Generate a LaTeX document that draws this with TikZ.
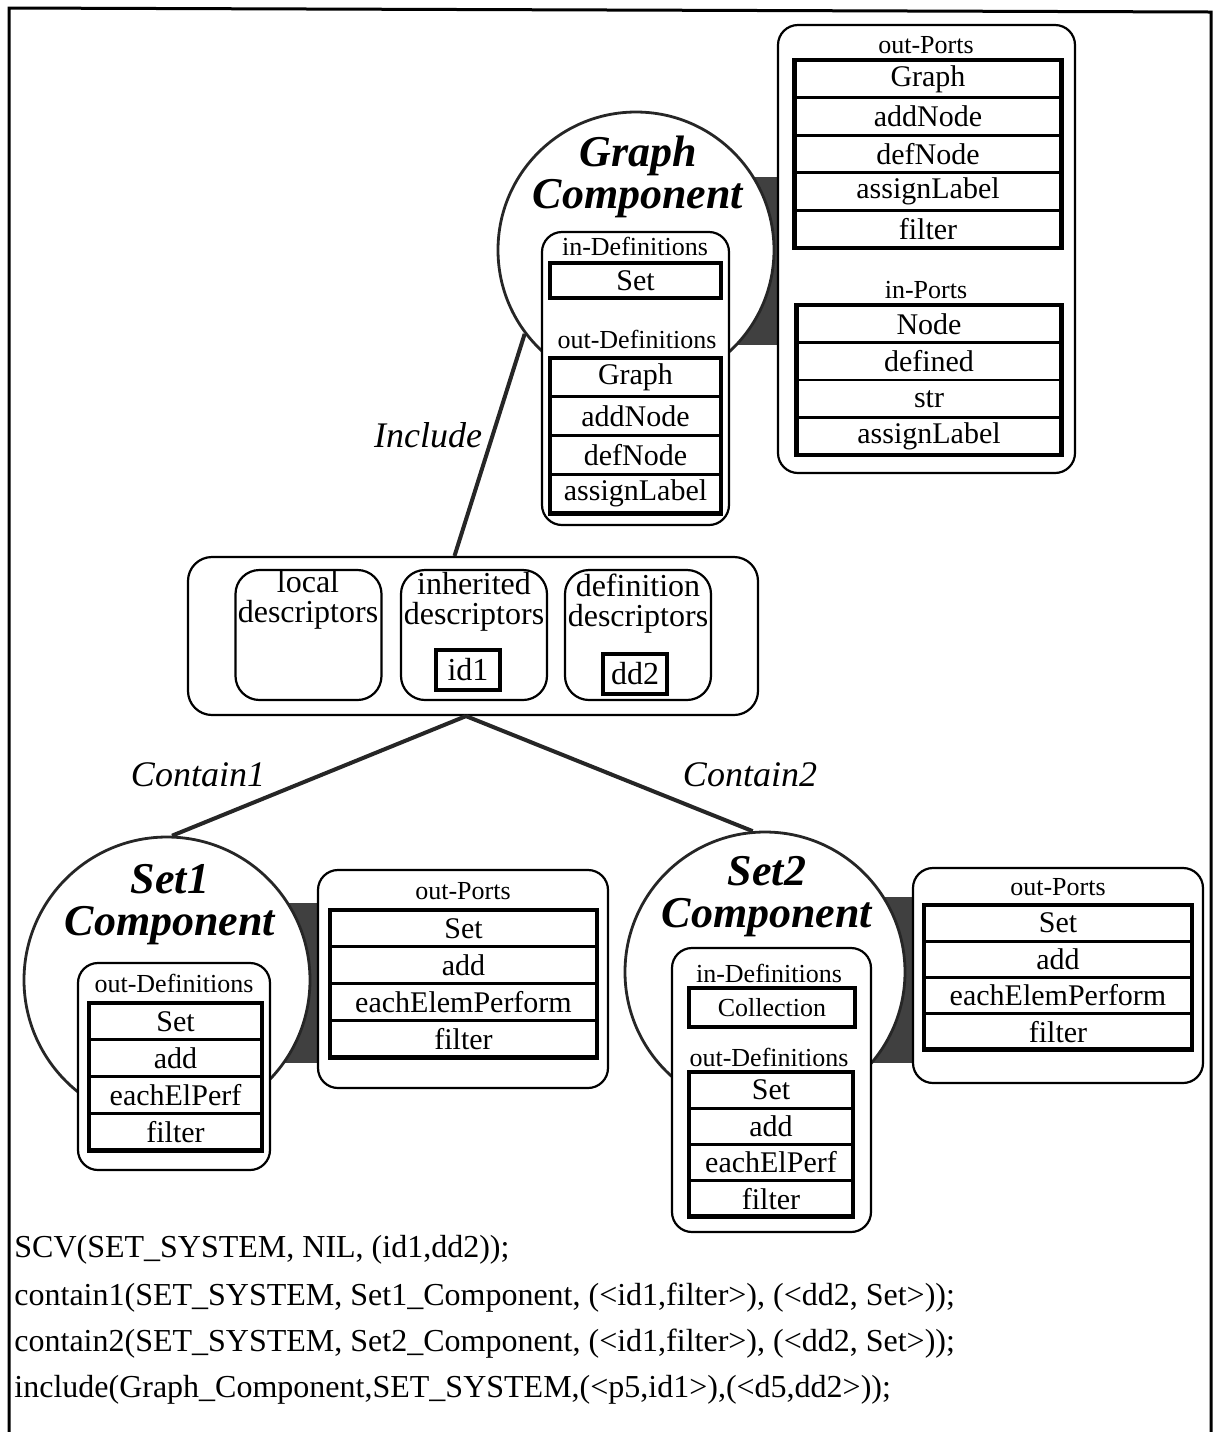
\documentclass[tikz,border=0pt]{standalone}
\usepackage{fontspec}
\setmainfont{Liberation Serif}
\usetikzlibrary{positioning}

\begin{document}
\begin{tikzpicture}[x=0.5pt, y=-0.5pt,
    link/.style={draw=black!85, line width=2pt},
    edgelbl/.style={font=\fontsize{18}{18}\selectfont\itshape},
    row/.style={rectangle, draw, line width=1.4pt, fill=white, inner sep=0pt, outer sep=0pt, font=\fontsize{15}{15}\selectfont},
    listframe/.style={draw, line width=2.4pt}]

    \useasboundingbox (0,0) rectangle (1217,1432);
    \draw[line width=1.5pt] (9,1432) -- (9,8) -- (1211,12) -- (1211,1432);

    % dark joints between component and its ports
    \fill[black!75] (700,177) rectangle (779,345);
    \fill[black!75] (250,903) rectangle (321,1063);
    \fill[black!75] (850,897) rectangle (914,1063);

    \begin{scope}[every node/.style={circle, draw=black!85, line width=1.4pt, fill=white, inner sep=0pt}]
        \node[minimum size=138pt] (gcomp) at (636,250) {};
        \node[minimum size=143pt] (s1comp) at (167,980) {};
        \node[minimum size=140pt] (s2comp) at (765,972) {};
    \end{scope}

    \begin{scope}[every node/.style={align=center, font=\fontsize{22}{21}\selectfont\bfseries\itshape}]
        \node (gtitle) at (638,177) {Graph\\Component};
        \node (s1title) at (170,905) {Set1\\Component};
        \node (s2title) at (767,897) {Set2\\Component};
    \end{scope}

    \begin{scope}[every node/.style={rectangle, rounded corners=10pt, draw, line width=1.1pt, fill=white, inner sep=0pt}]
        \node[minimum width=148.5pt, minimum height=224pt] (gports) at (926.5,249) {};
        \node[minimum width=93.5pt, minimum height=146.5pt] (gdefs) at (635.5,378.5) {};
        \node[minimum width=285pt, minimum height=79pt, rounded corners=12pt] (scv) at (473,636) {};
        \node[minimum width=145pt, minimum height=109pt] (s1ports) at (463,979) {};
        \node[minimum width=96pt, minimum height=103.5pt] (s1defs) at (174,1066.5) {};
        \node[minimum width=145pt, minimum height=107.5pt] (s2ports) at (1058,975.5) {};
        \node[minimum width=99.5pt, minimum height=142pt] (s2defs) at (771.5,1090) {};
    \end{scope}

    \begin{scope}[every node/.style={rectangle, rounded corners=12pt, draw, line width=1.1pt, fill=white, minimum width=73pt, minimum height=65pt}]
        \node (locd) at (308.5,635) {};
        \node (inhd) at (474,635) {};
        \node (defd) at (638,635) {};
    \end{scope}

    \begin{scope}[every node/.style={align=center, font=\fontsize{16}{15}\selectfont}]
        \node (locl) at (308,600) {local\\descriptors};
        \node (inhl) at (474,602) {inherited\\descriptors};
        \node (defl) at (638,604) {definition\\descriptors};
    \end{scope}

    \begin{scope}[every node/.style={rectangle, draw, line width=2.2pt, inner sep=0pt, minimum width=32pt, minimum height=20pt, font=\fontsize{16}{16}\selectfont}]
        \node (id1) at (468,670) {id1};
        \node (dd2) at (635,674) {dd2};
    \end{scope}

    \begin{scope}[every node/.style={font=\fontsize{13}{13}\selectfont, inner sep=1pt}]
        \node (gopl) at (926,45) {out-Ports};
        \node (gipl) at (926,290) {in-Ports};
        \node (gidl) at (635,246) {in-Definitions};
        \node (godl) at (637,339) {out-Definitions};
        \node (s1opl) at (463,891) {out-Ports};
        \node (s1odl) at (174,983) {out-Definitions};
        \node (s2opl) at (1058,887) {out-Ports};
        \node (s2idl) at (769,973) {in-Definitions};
        \node (s2odl) at (769,1057) {out-Definitions};
    \end{scope}

    % Graph out-Ports
    \begin{scope}[every node/.style={row, minimum width=133.5pt, minimum height=18.8pt}]
        \node[anchor=north] (gop1) at (928,60) {Graph};
        \node[below=0pt of gop1] (gop2) {addNode};
        \node[below=0pt of gop2] (gop3) {defNode};
        \node[below=0pt of gop3] (gop4) {assignLabel};
        \node[below=0pt of gop4] (gop5) {filter};
    \end{scope}
    \draw[listframe] (gop1.north west) rectangle (gop5.south east);

    % Graph in-Ports
    \begin{scope}[every node/.style={row, minimum width=132.5pt, minimum height=18.75pt}]
        \node[anchor=north] (gip1) at (929,305) {Node};
        \node[below=0pt of gip1] (gip2) {defined};
        \node[below=0pt of gip2] (gip3) {str};
        \node[below=0pt of gip3] (gip4) {assignLabel};
    \end{scope}
    \draw[listframe] (gip1.north west) rectangle (gip4.south east);

    % Graph definitions
    \begin{scope}[every node/.style={row, minimum width=85.5pt, minimum height=19.4pt}]
        \node[minimum height=17.5pt, line width=2.4pt] (gid1) at (635.5,280.5) {Set};
        \node[anchor=north] (god1) at (635.5,358) {Graph};
        \node[below=0pt of god1] (god2) {addNode};
        \node[below=0pt of god2] (god3) {defNode};
        \node[below=0pt of god3] (god4) {assignLabel};
    \end{scope}
    \draw[listframe] (god1.north west) rectangle (god4.south east);

    % Set1 out-Ports
    \begin{scope}[every node/.style={row, minimum width=133.5pt, minimum height=18.4pt}]
        \node[anchor=north] (s1op1) at (463.5,910) {Set};
        \node[below=0pt of s1op1] (s1op2) {add};
        \node[below=0pt of s1op2] (s1op3) {eachElemPerform};
        \node[below=0pt of s1op3] (s1op4) {filter};
    \end{scope}
    \draw[listframe] (s1op1.north west) rectangle (s1op4.south east);

    % Set1 out-Definitions
    \begin{scope}[every node/.style={row, minimum width=86.5pt, minimum height=18.4pt}]
        \node[anchor=north] (s1od1) at (175.5,1003) {Set};
        \node[below=0pt of s1od1] (s1od2) {add};
        \node[below=0pt of s1od2] (s1od3) {eachElPerf};
        \node[below=0pt of s1od3] (s1od4) {filter};
    \end{scope}
    \draw[listframe] (s1od1.north west) rectangle (s1od4.south east);

    % Set2 out-Ports
    \begin{scope}[every node/.style={row, minimum width=134pt, minimum height=18.1pt}]
        \node[anchor=north] (s2op1) at (1058,905) {Set};
        \node[below=0pt of s2op1] (s2op2) {add};
        \node[below=0pt of s2op2] (s2op3) {eachElemPerform};
        \node[below=0pt of s2op3] (s2op4) {filter};
    \end{scope}
    \draw[listframe] (s2op1.north west) rectangle (s2op4.south east);

    % Set2 definitions
    \begin{scope}[every node/.style={row, minimum width=82pt, minimum height=18.1pt}]
        \node[minimum height=19.5pt, minimum width=83pt, line width=2.4pt, font=\fontsize{13}{13}\selectfont] (s2id1) at (772,1007.5) {Collection};
        \node[anchor=north] (s2od1) at (771,1072) {Set};
        \node[below=0pt of s2od1] (s2od2) {add};
        \node[below=0pt of s2od2] (s2od3) {eachElPerf};
        \node[below=0pt of s2od3] (s2od4) {filter};
    \end{scope}
    \draw[listframe] (s2od1.north west) rectangle (s2od4.south east);

    % relations
    \draw[link] (gcomp.217) -- (scv.103);
    \draw[link] (scv.265) -- (s1comp.88);
    \draw[link] (scv.265) -- (s2comp.95);
    \node[edgelbl] (incl) at (428,435) {Include};
    \node[edgelbl] (cont1) at (198,775) {Contain1};
    \node[edgelbl] (cont2) at (750,775) {Contain2};

    \begin{scope}[every node/.style={anchor=base west, inner sep=0pt, font=\fontsize{16}{16}\selectfont}]
        \node (scvline) at (14,1257) {SCV(SET\_SYSTEM, NIL, (id1,dd2));};
        \node (c1line) at (14,1305) {contain1(SET\_SYSTEM, Set1\_Component, (<id1,filter>), (<dd2, Set>));};
        \node (c2line) at (14,1351) {contain2(SET\_SYSTEM, Set2\_Component, (<id1,filter>), (<dd2, Set>));};
        \node (incline) at (14,1397) {include(Graph\_Component,SET\_SYSTEM,(<p5,id1>),(<d5,dd2>));};
    \end{scope}

\end{tikzpicture}
\end{document}
